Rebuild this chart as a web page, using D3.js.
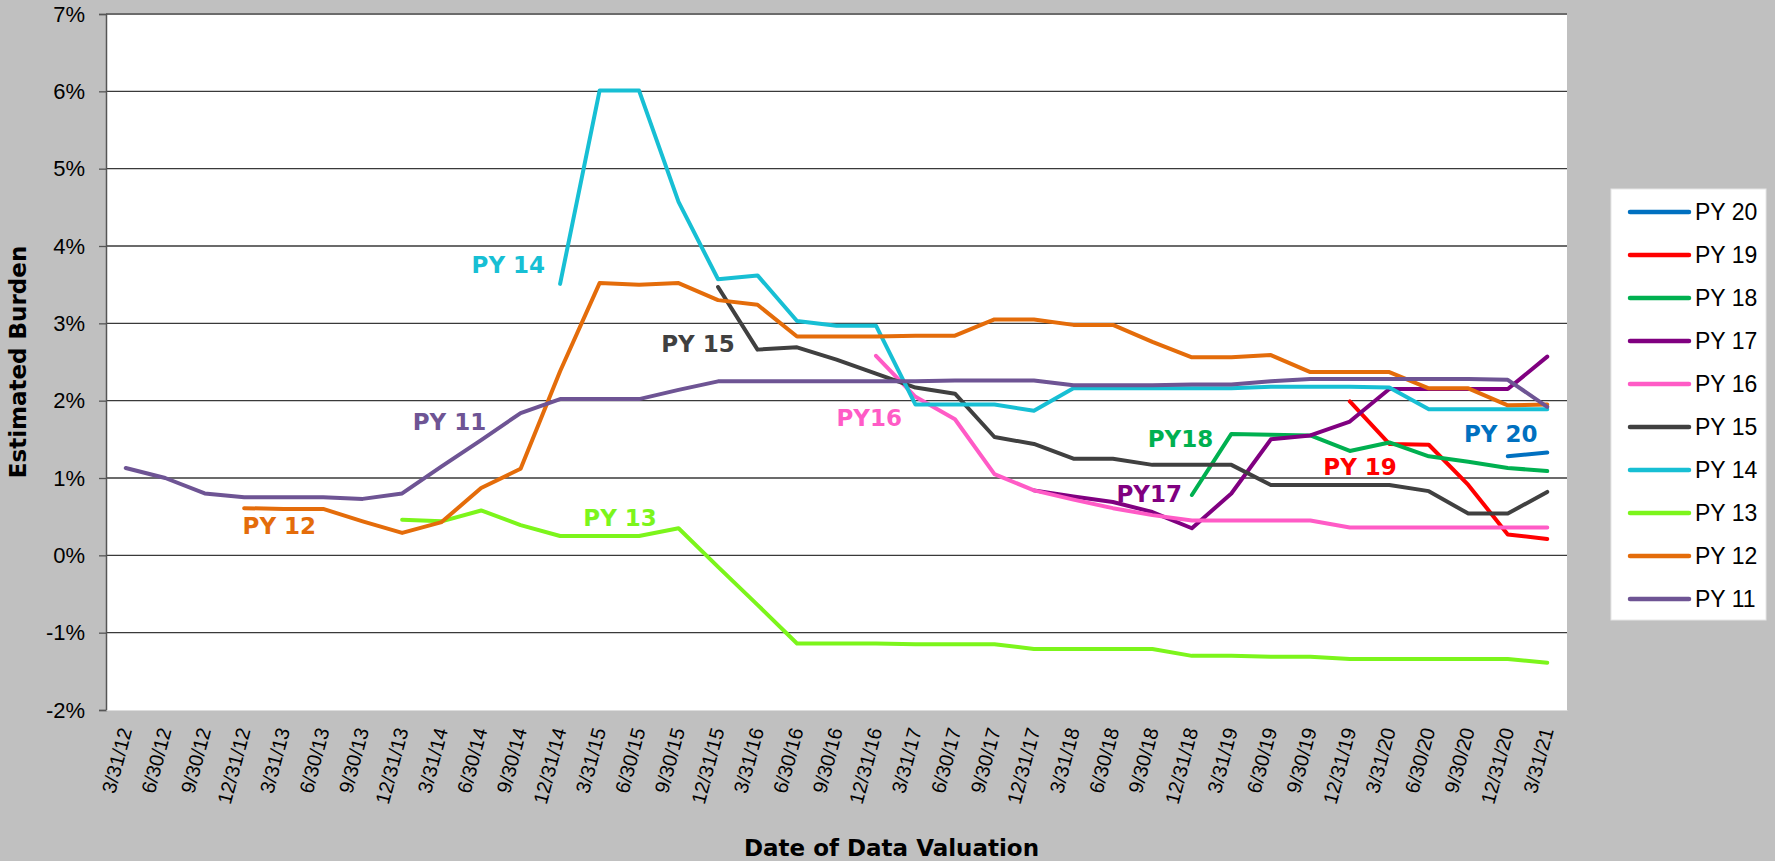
<!DOCTYPE html>
<html>
<head>
<meta charset="utf-8">
<script src="https://cdnjs.cloudflare.com/ajax/libs/d3/7.8.5/d3.min.js"></script>
<style>
body { margin: 0; background: #c0c0c0; overflow: hidden; }
</style>
</head>
<body>
<div id="a"></div>
<script>
// valuation dates (quarter ends)
var quarters = ["3/31/12","6/30/12","9/30/12","12/31/12","3/31/13","6/30/13","9/30/13","12/31/13",
  "3/31/14","6/30/14","9/30/14","12/31/14","3/31/15","6/30/15","9/30/15","12/31/15",
  "3/31/16","6/30/16","9/30/16","12/31/16","3/31/17","6/30/17","9/30/17","12/31/17",
  "3/31/18","6/30/18","9/30/18","12/31/18","3/31/19","6/30/19","9/30/19","12/31/19",
  "3/31/20","6/30/20","9/30/20","12/31/20","3/31/21"];

// estimated burden in %, each series runs from its first valuation to 3/31/21
var py11 = [1.13,1.00,0.80,0.75,0.75,0.75,0.73,0.80,1.15,1.49,1.84,2.02,2.02,2.02,2.14,2.25,2.25,2.25,2.25,2.25,
  2.25,2.26,2.26,2.26,2.20,2.20,2.20,2.21,2.21,2.25,2.28,2.28,2.28,2.28,2.28,2.27,1.92];
var py12 = [0.61,0.60,0.60,0.44,0.29,0.43,0.87,1.12,2.38,3.52,3.50,3.52,3.30,3.24,2.83,2.83,2.83,2.84,2.84,
  3.05,3.05,2.98,2.98,2.76,2.56,2.56,2.59,2.37,2.37,2.37,2.16,2.16,1.94,1.95];
var py13 = [0.46,0.44,0.58,0.39,0.25,0.25,0.25,0.35,-0.15,-0.64,-1.14,-1.14,-1.14,-1.15,-1.15,-1.15,-1.21,
  -1.21,-1.21,-1.21,-1.30,-1.30,-1.31,-1.31,-1.34,-1.34,-1.34,-1.34,-1.34,-1.39];
var py14 = [3.51,6.01,6.01,4.57,3.57,3.62,3.03,2.97,2.97,1.95,1.95,1.95,1.87,2.16,2.16,2.16,2.16,2.16,
  2.18,2.18,2.18,2.17,1.89,1.89,1.89,1.89];
var py15 = [3.47,2.66,2.69,2.53,2.35,2.17,2.09,1.53,1.44,1.25,1.25,1.17,1.17,1.17,0.91,0.91,0.91,0.91,
  0.83,0.54,0.54,0.82];
var py16 = [2.58,2.05,1.76,1.05,0.84,0.72,0.61,0.52,0.45,0.45,0.45,0.45,0.36,0.36,0.36,0.36,0.36,0.36];
var py17 = [0.84,0.76,0.69,0.56,0.35,0.80,1.50,1.55,1.73,2.15,2.15,2.15,2.15,2.57];
var py18 = [0.78,1.57,1.56,1.55,1.35,1.46,1.28,1.21,1.13,1.09];
var py19 = [1.99,1.44,1.43,0.91,0.27,0.21];
var py20 = [1.28,1.33];

var seriesNames = ["PY 20","PY 19","PY 18","PY 17","PY 16","PY 15","PY 14","PY 13","PY 12","PY 11"];
var seriesStart = ["12/31/20","12/31/19","12/31/18","12/31/17","12/31/16","12/31/15","12/31/14","12/31/13","12/31/12","3/31/12"];
var seriesValues = [py20,py19,py18,py17,py16,py15,py14,py13,py12,py11];
var yTicks = [-2,-1,0,1,2,3,4,5,6,7];

var colors = ["#0070c0","#ff0000","#00b050","#800080","#ff5bc6","#404040","#17bfd4","#7cf51b","#e46c0a","#6e5494"];

// in-chart tags: [text, quarter position, value at baseline, series]
var tags = [
  ["PY 20",34.82,1.46,0],["PY 19",31.26,1.035,1],["PY18",26.71,1.40,2],["PY17",25.92,0.685,3],
  ["PY16",18.83,1.67,4],["PY 15",14.49,2.63,5],["PY 14",9.69,3.65,6],["PY 13",12.52,0.375,7],
  ["PY 12",3.89,0.27,8],["PY 11",8.20,1.62,9]
];

var W = 1775, H = 861;
var pL = 106, pR = 1567, pT = 14, pB = 710;

svg = d3.select("#a").append("svg")
  .attr("width", W)
  .attr("height", H)
  .style("background-color", "#c0c0c0");

x = d3.scalePoint().domain(quarters).range([pL, pR]).padding(0.5);
xi = d3.scaleLinear().domain([0, quarters.length - 1]).range([x(quarters[0]), x(quarters[quarters.length - 1])]);
y = d3.scaleLinear().domain([-2, 7]).range([pB, pT]);

svg.append("rect")
  .attr("x", pL).attr("y", pT - 1)
  .attr("width", pR - pL).attr("height", pB - pT + 2)
  .attr("fill", "#fff");

// gridlines
svg.selectAll("line.grid")
  .data(yTicks.filter(function(d){ return d > -2; }))
  .enter().append("line")
  .attr("class", "grid")
  .attr("x1", pL).attr("x2", pR)
  .attr("y1", function(d){ return y(d); })
  .attr("y2", function(d){ return y(d); })
  .attr("stroke", "#3a3a3a")
  .attr("stroke-width", 1.3);

// y axis
var yAxis = d3.axisLeft(y).tickValues(yTicks).tickSize(7).tickPadding(14)
  .tickFormat(function(d){ return d + "%"; });
var ya = svg.append("g").attr("transform", "translate(" + pL + ",0)").call(yAxis);
ya.select(".domain").attr("stroke", "#555").attr("stroke-width", 1.5);
ya.selectAll(".tick line").attr("stroke", "#555").attr("stroke-width", 1.3);
ya.selectAll(".tick text")
  .attr("font-family", "'Liberation Sans', Arial, sans-serif")
  .attr("font-size", 22)
  .attr("fill", "#000");

// x axis labels
var xAxis = d3.axisBottom(x).tickSize(0).tickPadding(0);
var xa = svg.append("g").attr("transform", "translate(0," + pB + ")").call(xAxis);
xa.select(".domain").attr("stroke", "#ddd").attr("stroke-width", 1);
xa.selectAll(".tick text")
  .attr("font-family", "'Liberation Sans', Arial, sans-serif")
  .attr("font-size", 20)
  .attr("fill", "#000")
  .attr("text-anchor", "end")
  .attr("y", 0).attr("dy", 0)
  .attr("transform", "translate(6,20) rotate(-75)");

// series lines
var line = d3.line()
  .x(function(d){ return x(d.q); })
  .y(function(d){ return y(d.v); });

var series = seriesNames.map(function(name, k){
  var s = quarters.indexOf(seriesStart[k]);
  return { name: name, color: colors[k], pts: seriesValues[k].map(function(v, j){ return { q: quarters[s + j], v: v }; }) };
});

svg.append("g").selectAll("path")
  .data(series)
  .enter().append("path")
  .attr("d", function(d){ return line(d.pts); })
  .attr("fill", "none")
  .attr("stroke", function(d){ return d.color; })
  .attr("stroke-width", 4)
  .attr("stroke-linejoin", "round")
  .attr("stroke-linecap", "round");

// tags next to the lines
svg.append("g").selectAll("text")
  .data(tags)
  .enter().append("text")
  .attr("x", function(d){ return xi(d[1]); })
  .attr("y", function(d){ return y(d[2]); })
  .attr("text-anchor", "middle")
  .attr("font-family", "'DejaVu Sans', Verdana, sans-serif")
  .attr("font-weight", "bold")
  .attr("font-size", 23)
  .attr("fill", function(d){ return colors[d[3]]; })
  .text(function(d){ return d[0]; });

// axis titles
svg.append("text")
  .attr("transform", "translate(26," + ((pT + pB) / 2) + ") rotate(-90)")
  .attr("text-anchor", "middle")
  .attr("font-family", "'DejaVu Sans', Verdana, sans-serif")
  .attr("font-weight", "bold")
  .attr("font-size", 23)
  .text("Estimated Burden");

svg.append("text")
  .attr("x", W / 2 + 4).attr("y", 856)
  .attr("text-anchor", "middle")
  .attr("font-family", "'DejaVu Sans', Verdana, sans-serif")
  .attr("font-weight", "bold")
  .attr("font-size", 23)
  .text("Date of Data Valuation");

// legend
var lg = svg.append("g");
lg.append("rect")
  .attr("x", 1611).attr("y", 189)
  .attr("width", 155).attr("height", 431)
  .attr("fill", "#fff").attr("stroke", "#e6e6e6");
var li = lg.selectAll("g.item")
  .data(series)
  .enter().append("g")
  .attr("class", "item")
  .attr("transform", function(d, k){ return "translate(1630," + (212 + k * 43) + ")"; });
li.append("line")
  .attr("x1", 0).attr("x2", 59)
  .attr("stroke", function(d){ return d.color; })
  .attr("stroke-width", 4.5)
  .attr("stroke-linecap", "round");
li.append("text")
  .attr("x", 65).attr("dy", "0.36em")
  .attr("font-family", "'Liberation Sans', Arial, sans-serif")
  .attr("font-size", 23)
  .text(function(d){ return d.name; });
</script>
</body>
</html>
